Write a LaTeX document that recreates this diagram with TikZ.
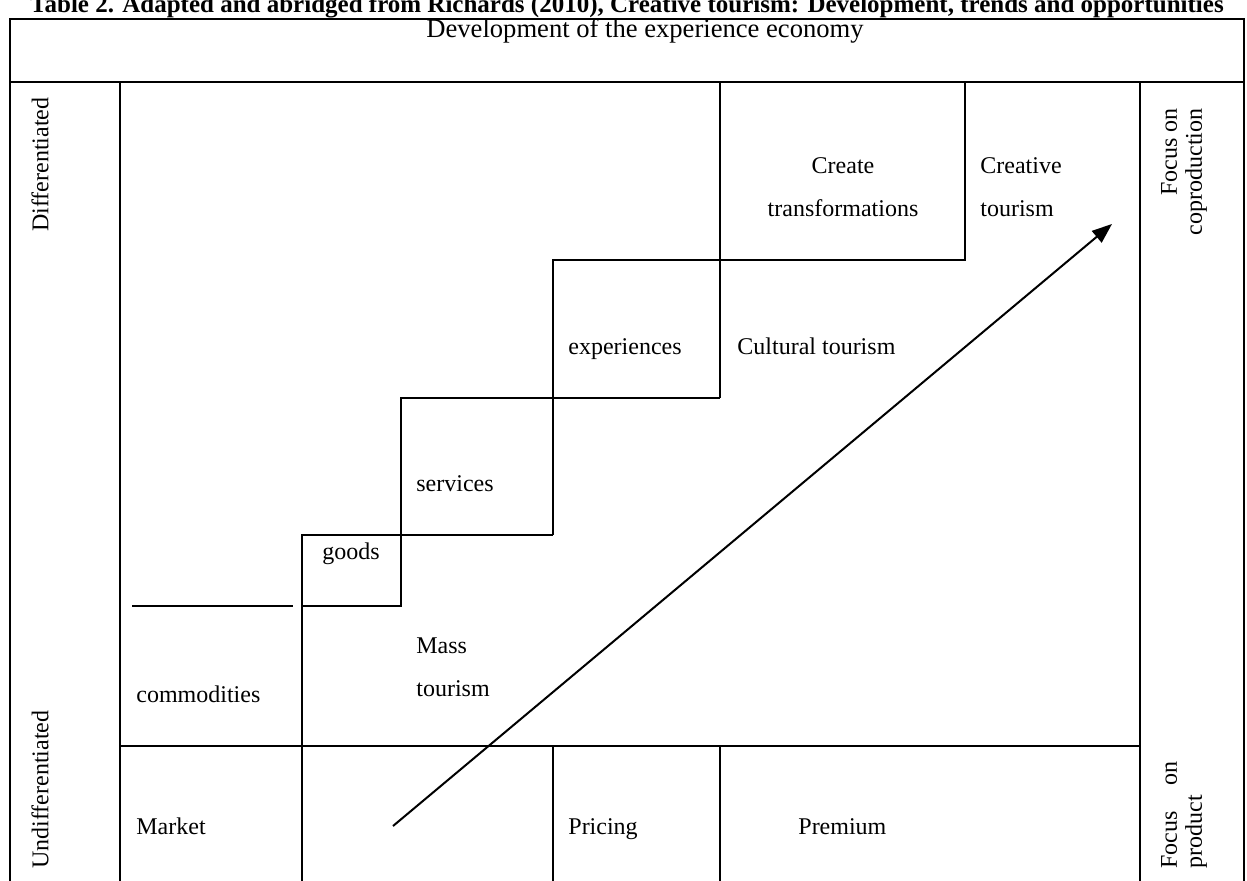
\documentclass[tikz,border=0pt]{standalone}
\usepackage{fontspec}
\setmainfont{Liberation Serif}
\usetikzlibrary{arrows.meta}
\tikzset{
  cell/.style={
    anchor=base west,
    inner sep=0pt,
    font=\fontsize{12}{21.5}\selectfont
  },
  side/.style={
    rotate=90,
    inner sep=0pt,
    font=\fontsize{12}{12.5}\selectfont
  },
  rule/.style={
    line width=1pt
  },
  arrow/.style={
    -{Triangle[length=10pt,width=7.5pt]},
    line width=1pt
  }
}
\begin{document}
\begin{tikzpicture}[x=0.5pt,y=-0.5pt]
\useasboundingbox (0,0) rectangle (1247,880);
\node[anchor=base,inner sep=0pt,font=\bfseries\fontsize{12.5}{14}\selectfont] (caption) at (627,12) {Table 2. Adapted and abridged from Richards (2010), Creative tourism: Development, trends and opportunities};
\node[anchor=base,inner sep=0pt,font=\fontsize{13.3}{16}\selectfont] (title) at (645,37) {Development of the experience economy};
\draw[rule] (10,900) -- (10,19) -- (1244,19) -- (1244,900);
\draw[rule] (10,82) -- (1244,82);
\draw[rule] (120,82) -- (120,900);
\draw[rule] (1140,82) -- (1140,900);
\draw[rule] (120,746) -- (1140,746);
\draw[line width=1.4pt] (132,606) -- (293,606);
\draw[rule] (302,900) -- (302,535) -- (553,535);
\draw[rule] (302,606) -- (401,606) -- (401,398) -- (720,398);
\draw[rule] (553,535) -- (553,260) -- (965,260) -- (965,82);
\draw[rule] (720,398) -- (720,82);
\draw[rule] (553,746) -- (553,900);
\draw[rule] (720,746) -- (720,900);
\node[side,anchor=east] (diff) at (40,97) {Differentiated};
\node[side,anchor=west] (undiff) at (40,869) {Undifferentiated};
\node[side,anchor=east,align=right] (coprod) at (1184,108) {Focus on\\coproduction};
\node[side,anchor=west,align=left,text width=53.5pt] (prod) at (1184,869) {Focus\hfill on\\product};
\node[cell,anchor=north,align=center] (transf) at (843,157) {Create\\transformations};
\node[cell,anchor=north west,align=left] (creative) at (980,157) {Creative\\tourism};
\node[cell] (exp) at (568,354) {experiences};
\node[cell] (cultural) at (737,354) {Cultural tourism};
\node[cell] (serv) at (416,491) {services};
\node[cell] (goods) at (322,559) {goods};
\node[cell,anchor=north west,align=left] (mass) at (416,637) {Mass\\tourism};
\node[cell] (comm) at (136,702) {commodities};
\node[cell] (market) at (136,834) {Market};
\node[cell] (pricing) at (568,834) {Pricing};
\node[cell] (premium) at (798,834) {Premium};
\coordinate (from) at (393,826);
\coordinate (to) at (1112,224);
\draw[arrow] (from) -- (to);
\end{tikzpicture}
\end{document}
